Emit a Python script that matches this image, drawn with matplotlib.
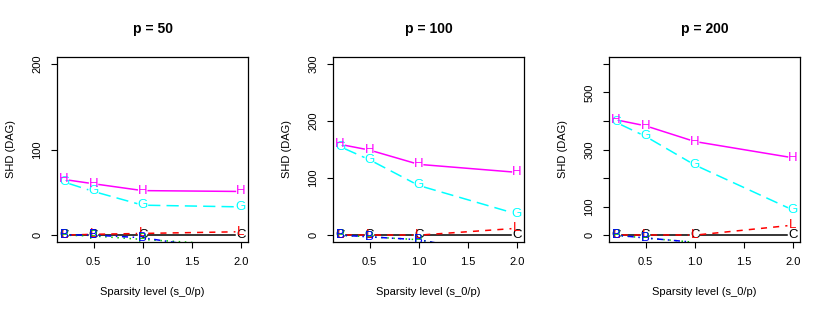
import numpy as np
import matplotlib
matplotlib.use("Agg")
import matplotlib.pyplot as plt

plt.rcParams['font.family'] = ['Liberation Sans', 'DejaVu Sans']

sparsity = [0.2, 0.5, 1.0, 2.0]
panel_titles = ["p = 50", "p = 100", "p = 200"]
y_tops = [200, 300, 600]
y_ticks = [[0, 100, 200], [0, 100, 200, 300], [0, 100, 200, 300, 400, 500, 600]]
y_ticklabels = [["0", "100", "200"], ["0", "100", "200", "300"],
                ["0", "100", "", "300", "", "500", ""]]

# method letters, colours, line styles (R palette order)
methods = ["C", "L", "P", "B", "G", "H"]
colors = ["black", "red", "#00CD00", "blue", "cyan", "magenta"]
styles = ["-", (0, (4, 4)), (0, (1, 3)), (0, (1, 3, 4, 3)), (0, (8, 4)), "-"]

shd_p50 = {
    "C": [0, 0, 0, 0],
    "L": [0, 1, 2, 4],
    "P": [0, -1, -5, -12],
    "B": [0, 0, -3, -20],
    "G": [62, 51, 35, 33],
    "H": [65, 60, 52, 51],
}
shd_p100 = {
    "C": [0, 0, 0, 0],
    "L": [0, 0, 0, 12],
    "P": [0, -3, -8, -40],
    "B": [0, -3, -8, -40],
    "G": [155, 132, 87, 37],
    "H": [159, 149, 124, 110],
}
shd_p200 = {
    "C": [0, 0, 0, 0],
    "L": [0, 0, 0, 35],
    "P": [0, -10, -25, -60],
    "B": [0, -10, -25, -60],
    "G": [395, 346, 246, 88],
    "H": [404, 383, 328, 271],
}
panels = [shd_p50, shd_p100, shd_p200]


def gapped_lines(ax, xs, ys, gap=5.5, **kw):
    # like R type="b": leave a small gap round each point
    pts = ax.transData.transform(np.column_stack([xs, ys]))
    inv = ax.transData.inverted()
    for a, b in zip(pts[:-1], pts[1:]):
        d = b - a
        n = np.hypot(*d)
        if n <= 2 * gap:
            continue
        u = d / n
        seg = inv.transform(np.array([a + u * gap, b - u * gap]))
        ax.plot(seg[:, 0], seg[:, 1], **kw)


fig = plt.figure(figsize=(8.3, 3.12), dpi=100)
lefts = [57 / 830, 333 / 830, 609 / 830]
width = 191 / 830
bottom = 1 - 242 / 312
height = 185 / 312

for i, data in enumerate(panels):
    ax = fig.add_axes([lefts[i], bottom, width, height])
    top = y_tops[i]
    ax.set_xlim(0.2 - 0.072, 2.0 + 0.072)
    ax.set_ylim(-0.04 * top, top * 1.04)
    for m, c, ls in zip(methods, colors, styles):
        gapped_lines(ax, sparsity, data[m], color=c, linestyle=ls,
                     linewidth=1.1)
        for x, y in zip(sparsity, data[m]):
            if -0.04 * top <= y <= top * 1.04:
                ax.text(x, y, m, color=c, fontsize=9.5, ha="center",
                        va="center", clip_on=True)
    ax.set_xticks([0.5, 1.0, 1.5, 2.0])
    ax.set_xticklabels(["0.5", "1.0", "1.5", "2.0"])
    ax.set_yticks(y_ticks[i])
    ax.set_yticklabels(y_ticklabels[i], rotation=90, va="center")
    ax.tick_params(labelsize=8, length=4.5, width=0.8, pad=6)
    for s in ax.spines.values():
        s.set_linewidth(0.9)
    ax.set_title(panel_titles[i], fontsize=10, fontweight="bold", pad=17)
    ax.set_xlabel("Sparsity level (s_0/p)", fontsize=8, labelpad=15)
    ax.set_ylabel("SHD (DAG)", fontsize=8, labelpad=12)

fig.savefig("out.png", dpi=100)
